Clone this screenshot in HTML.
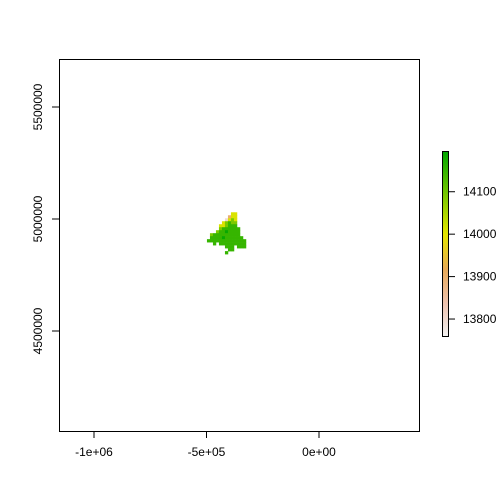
<!DOCTYPE html>
<html><head><style>body{margin:0;background:#fff}svg{display:block;font-family:"Liberation Sans",sans-serif}</style></head>
<body>
<svg id="c" width="504" height="504"></svg>
<script>
const xTicks=[-1e6,-5e5,0];
const xTickLabels=["-1e+06","-5e+05","0e+00"];
const yTicks=[4500000,5000000,5500000];
const yTickLabels=["4500000","5000000","5500000"];
const legendTicks=[13800,13900,14000,14100];
const legendTickLabels=["13800","13900","14000","14100"];
const zMin=13760, zMax=14196;
const cellCodes={g:14150,G:14190,l:14090,y:14010,o:13900,p:13800};
const rasterRows=[
"........yy....",
".......oyy....",
"......pyly....",
".....ylgll....",
"....yylggg....",
"....lgggggg...",
"...lggGgggg...",
".lggggggggg...",
".ggggGgggggg..",
"ggggggggggggg.",
"..g.ggggggggg.",
"......ggg.ggg.",
".......gg.....",
"......g......."];
const rasterX0=-498000, rasterY0=5030000, cellSize=13333;

const NS="http://www.w3.org/2000/svg",svg=document.getElementById('c');
const sx=v=>319+v*225/1e6, sy=v=>219-(v-5e6)*224/1e6;
const ly=v=>336-(v-zMin)*(336-151)/(zMax-zMin);
function mk(t,a,p){const e=document.createElementNS(NS,t);for(const k in a)e.setAttribute(k,a[k]);(p||svg).appendChild(e);return e;}
const stops=[[0,[242,242,242]],[0.18,[238,195,175]],[0.36,[232,170,90]],[0.55,[230,230,0]],[1,[0,166,0]]];
function col(v){let t=(v-zMin)/(zMax-zMin);t=Math.max(0,Math.min(1,t));for(let i=1;i<stops.length;i++){if(t<=stops[i][0]){const a=stops[i-1],b=stops[i],f=(t-a[0])/(b[0]-a[0]);return 'rgb('+a[1].map((c,j)=>Math.round(c+(b[1][j]-c)*f)).join(',')+')';}}return 'rgb(0,166,0)';}
rasterRows.forEach((row,r)=>{[...row].forEach((ch,c)=>{if(ch==='.')return;
const x=rasterX0+c*cellSize,y=rasterY0-r*cellSize;
const e=mk('rect',{x:sx(x),y:sy(y),width:sx(x+cellSize)-sx(x)+0.3,height:sy(y-cellSize)-sy(y)+0.3,fill:col(cellCodes[ch])});

});});
const box=mk('rect',{x:59.5,y:59.5,width:360,height:372,fill:'none',stroke:'#000'});

xTicks.forEach((v,i)=>{const x=sx(v);mk('line',{x1:x,x2:x,y1:431,y2:438,stroke:'#000'});
const t=mk('text',{x:x,y:456,'text-anchor':'middle','font-size':12});t.textContent=xTickLabels[i];
});
yTicks.forEach((v,i)=>{const y=sy(v);mk('line',{x1:52,x2:59,y1:y,y2:y,stroke:'#000'});
const t=mk('text',{x:42,y:y,'text-anchor':'middle','font-size':12,transform:`rotate(-90 42 ${y})`});t.textContent=yTickLabels[i];
});
const defs=mk('defs',{});const g=mk('linearGradient',{id:'lg',x1:0,y1:1,x2:0,y2:0},defs);
stops.forEach(s=>mk('stop',{offset:s[0],'stop-color':'rgb('+s[1].join(',')+')'},g));
const lb=mk('rect',{x:442.5,y:151.5,width:6,height:185,fill:'url(#lg)',stroke:'#000'});

legendTicks.forEach((v,i)=>{const y=ly(v);mk('line',{x1:449,x2:455,y1:y,y2:y,stroke:'#000'});
const t=mk('text',{x:463,y:y+4,'font-size':12});t.textContent=legendTickLabels[i];
});
</script>
</body></html>
